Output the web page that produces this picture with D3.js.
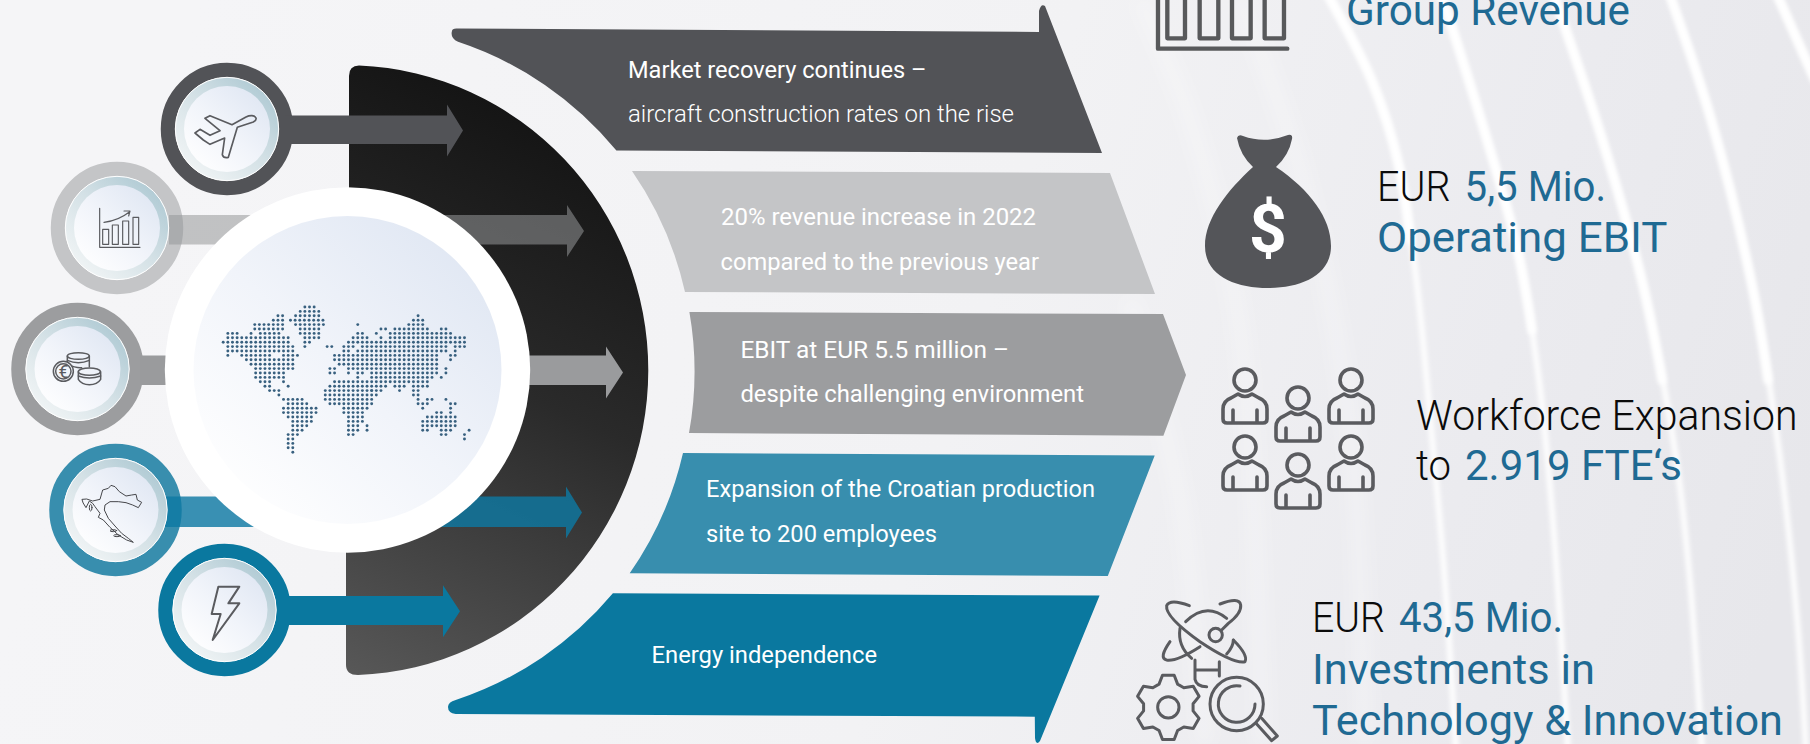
<!DOCTYPE html>
<html>
<head>
<meta charset="utf-8">
<script src="https://cdn.jsdelivr.net/npm/d3@7/dist/d3.min.js"></script>
<style>
html,body{margin:0;padding:0;background:#f3f3f5;overflow:hidden}
svg{display:block}
text{font-family:Roboto,sans-serif}
</style>
</head>
<body>
<svg id="c" width="1810" height="744"></svg>
<script>
// ---------- content ----------
const topicColors = ["#525357","#c4c5c7","#9c9d9f","#388eae","#0a789f"];
const arrowColors = ["#525357","#969799","#9a9b9d","#0d79a2","#0a789f"];
const arrowOpacity = [1,0.55,1,0.81,1];
const topicCenters = [[227,129],[117,228],[77.5,369],[115.5,510],[224.5,610]];
const arrowSpans = [[285,447,463,115.5,144,130.5],[169,567,584,215,244.5,231],[140,606,623,355.5,385,372.6],[165,566,582,496.5,527,512.6],[283,443,460,596,625,611.3]];
const bannerOutlines = [
 "M452 31Q452 28 458 28.5L1039 32L1039 11Q1041 3 1045 6L1102 153L616.4 150.5A346 346 0 0 0 458 41.8Q450 38 452 31Z",
 "M632 171L1110 173L1155 294L685 292A346 346 0 0 0 632 171Z",
 "M689.4 312L1163 314L1186 375L1163.4 435.7L689 433A346 346 0 0 0 689.4 312Z",
 "M683 453L1154.7 455.6L1107.8 576L629.7 573.3A346 346 0 0 0 683 453Z",
 "M612.9 593.3L1099.6 595.6L1040 741Q1036 746 1035 738L1034.8 716.7L455.7 714Q448 713 448 707Q448 702 455.7 700A346 346 0 0 0 612.9 593.3Z"
];
const bannerText = [
 ["Market recovery continues –",628,78.3,926.6],
 ["aircraft construction rates on the rise",628,122.4,1014],
 ["20% revenue increase in 2022",721,225,1036],
 ["compared to the previous year",720.5,269.6,1039],
 ["EBIT at EUR 5.5 million –",740.4,358,1009],
 ["despite challenging environment",740.4,401.5,1084],
 ["Expansion of the Croatian production",706,497.4,1095],
 ["site to 200 employees",706,541.5,937],
 ["Energy independence",651.6,662.5,877]
];
const black="#0b0b0b", blue="#1f6a93";
const kpiText = [
 ["Group Revenue",1346,24.7,1630,blue],
 ["EUR",1377,201,1450.5,black],
 ["5,5 Mio.",1464.6,201,1606,blue],
 ["Operating EBIT",1377,251.5,1667.5,blue],
 ["Workforce Expansion",1416,429.5,1797.5,black],
 ["to",1416,480.3,1451,black],
 ["2.919 FTE‘s",1465,480.3,1682,blue],
 ["EUR",1312,632,1385,black],
 ["43,5 Mio.",1399,632,1563,blue],
 ["Investments in",1312,684.4,1595,blue],
 ["Technology & Innovation",1312,734.7,1783,blue]
];
// dotted world map: per row, runs of [first column, count]
const mapRows = [
 [[17.6,3]],
 [[16.6,5]],
 [[11.8,2],[15.6,6],[42,1]],
 [[10.8,3],[14.5,8],[41,3]],
 [[6.8,7],[15.6,7],[29,1],[40,4]],
 [[6.8,7],[16.6,5],[34,2],[37,8],[47,2]],
 [[1,3],[6,1],[8,5],[16.6,5],[29,2],[33,1],[36,14]],
 [[1,14],[17.6,4],[28,4],[34,1],[36,17]],
 [[0,14],[14,1],[17.6,2],[27,26]],
 [[1,12],[13,3],[17.6,1],[22.4,2],[26,3],[30,19],[50,3]],
 [[1,12],[13,3],[26,2],[29,20],[50,1]],
 [[1,1],[4,7],[13,4],[24,2],[26,21],[49,2]],
 [[5,11],[24,2],[26,21],[49,1]],
 [[6,10],[25,22]],
 [[7,9],[23,2],[27,20],[48,1]],
 [[7,7],[23,2],[27,1],[29,2],[32,15],[48,1]],
 [[7,7],[29,1],[32,2],[34,12],[47,1]],
 [[8,3],[13,1],[24,21]],
 [[9,2],[14,1],[23,13],[37,3],[41,4]],
 [[10,3],[22,11],[32,3],[38,1],[41,2]],
 [[12,1],[22,11],[33,1],[41,2]],
 [[13,5],[22,11],[42,1],[44,2],[48,1]],
 [[14,5],[23,10],[42,3],[49,2]],
 [[13,8],[26,6],[43,1],[49,1]],
 [[13,8],[26,5],[46,2],[49,1]],
 [[14,6],[27,4],[44,7]],
 [[15,5],[27,4],[43,8]],
 [[15,4],[27,3],[31,1],[43,8]],
 [[15,3],[27,3],[31,1],[43,2],[47,3],[53,1]],
 [[14,3],[27,2],[47,2],[52,1]],
 [[14,2],[52,1]],
 [[14,2]],
 [[14,2]],
 [[15,1]]
];
const streaks = [
 [[1325,-10],[1372,81],[1399,166],[1417,285],[1431,427],[1444,570],[1456,750]],
 [[1440,-10],[1485,133],[1517,247],[1539,380],[1553,522],[1568,750]],
 [[1552,-10],[1603,142],[1643,285],[1675,451],[1689,570],[1702,750]],
 [[1668,-10],[1711,119],[1752,285],[1779,451],[1797,617],[1806,750]],
 [[1775,-10],[1815,80]]
];
const streakUpper = [
 [[1325,-10],[1372,81],[1399,166],[1410,240]],
 [[1440,-10],[1485,133],[1517,247],[1532,330]],
 [[1552,-10],[1603,142],[1643,285],[1662,380]],
 [[1668,-10],[1711,119],[1752,285],[1768,380]],
 [[1775,-10],[1815,80]]
];
const faintStreaks = [
 [[1140,0],[1190,120],[1240,330],[1262,744]],
 [[1240,0],[1300,170],[1350,430],[1365,744]],
 [[1130,300],[1180,500],[1205,744]]
];

// ---------- helpers ----------
const svg=d3.select("#c"), defs=svg.append("defs");
function grad(id,x1,y1,x2,y2,stops,user){
  const g=defs.append("linearGradient").attr("id",id)
   .attr("x1",x1).attr("y1",y1).attr("x2",x2).attr("y2",y2);
  if(user) g.attr("gradientUnits","userSpaceOnUse");
  stops.forEach(s=>g.append("stop").attr("offset",s[0]).attr("stop-color",s[1]));
}
grad("bg",200,0,1810,500,[[0,"#f5f5f7"],[.5,"#f2f2f4"],[.8,"#ebebef"],[1,"#e7e7eb"]],true);
grad("dark",610,120,340,690,[[0,"#121212"],[.45,"#2a2a2a"],[1,"#5a5a5a"]],true);
grad("face",0.1,0.95,0.9,0.1,[[0,"#ffffff"],[.5,"#f1f4fa"],[1,"#e0e7f3"]]);
grad("bezel",0.9,0.1,0.15,0.9,[[0,"#aec9d3"],[.5,"#d4e1e6"],[1,"#f0f4f5"]]);
defs.append("filter").attr("id","b1").attr("x","-20%").attr("y","-20%").attr("width","140%").attr("height","140%")
  .append("feGaussianBlur").attr("stdDeviation",2.2);
defs.append("filter").attr("id","b2").attr("x","-30%").attr("y","-30%").attr("width","160%").attr("height","160%")
  .append("feGaussianBlur").attr("stdDeviation",8);

// ---------- background ----------
svg.append("rect").attr("width",1810).attr("height",744).attr("fill","url(#bg)");
const curve=d3.line().curve(d3.curveCatmullRom);
svg.append("g").attr("filter","url(#b2)").selectAll("path").data(faintStreaks).join("path")
  .attr("d",curve).attr("fill","none").attr("stroke","#fff").attr("stroke-width",14).attr("opacity",.3);
svg.append("g").attr("filter","url(#b1)").selectAll("path").data(streaks).join("path")
  .attr("d",curve).attr("fill","none").attr("stroke","#fff").attr("stroke-width",6).attr("opacity",.9);
svg.append("g").attr("filter","url(#b1)").selectAll("path").data(streakUpper).join("path")
  .attr("d",curve).attr("fill","none").attr("stroke","#fff").attr("stroke-width",9).attr("stroke-linecap","round").attr("opacity",.95);

// ---------- banners ----------
svg.append("g").selectAll("path").data(bannerOutlines).join("path")
  .attr("d",d=>d).attr("fill",(d,i)=>topicColors[i]);

// ---------- dark half disc ----------
svg.append("path").attr("d","M349 76Q349 65.5 359 65.5A302 305 0 0 1 358 675Q346 675 346 665L346 370L349 370Z").attr("fill","url(#dark)");

// ---------- rings + arrows ----------
const rings=svg.append("g");
rings.selectAll("circle").data(topicCenters).join("circle")
  .attr("cx",d=>d[0]).attr("cy",d=>d[1]).attr("r",59).attr("fill","none")
  .attr("stroke",(d,i)=>topicColors[i]).attr("stroke-width",14.5);
svg.append("g").selectAll("path").data(arrowSpans).join("path")
  .attr("d",d=>{const [x0,x1,x2,y0,y1,t]=d,h=26;
    return `M${x0} ${y0}L${x1} ${y0}L${x1} ${t-h}L${x2} ${t}L${x1} ${t+h}L${x1} ${y1}L${x0} ${y1}Z`;})
  .attr("fill",(d,i)=>arrowColors[i]).attr("fill-opacity",(d,i)=>arrowOpacity[i]);
const discs=svg.append("g").selectAll("g").data(topicCenters).join("g")
  .attr("transform",d=>`translate(${d[0]},${d[1]})`);
discs.append("circle").attr("r",51.7).attr("fill","url(#bezel)").attr("stroke","#fff").attr("stroke-width",1);
discs.append("circle").attr("r",43).attr("fill","url(#face)");

// ---------- central globe ----------
svg.append("circle").attr("cx",347.5).attr("cy",370).attr("r",182.7).attr("fill","#fff");
svg.append("circle").attr("cx",347.5).attr("cy",370).attr("r",154).attr("fill","url(#face)");
const colX=d3.scaleLinear().domain([0,1]).range([223.2,227.84]);
const rowY=d3.scaleLinear().domain([0,1]).range([307,311.4]);
const dots=[];
mapRows.forEach((runs,r)=>runs.forEach(([k,n])=>d3.range(n).forEach(i=>dots.push([k+i,r]))));
svg.append("g").selectAll("circle").data(dots).join("circle")
  .attr("cx",d=>colX(d[0])).attr("cy",d=>rowY(d[1])).attr("r",1.45).attr("fill","#38607f");

// ---------- small icons ----------
const ink="#5a5b5f";
function icon(x,y,k,sw,col){return svg.append("g").attr("transform",`translate(${x},${y}) scale(${k})`)
  .attr("fill","none").attr("stroke",col||ink).attr("stroke-width",sw).attr("stroke-linejoin","round").attr("stroke-linecap","round");}
// plane
icon(160,60,1/3,5).append("path").attr("d","M288 174C284 165 270 165 258 171L216 194L150 167L135 175L180 212L150 226L120 208L105 219L130 240L150 253L194 234L187 284Q190 295 205 292L232 202L280 186Q290 181 288 174Z");
// chart
const ch=icon(50,160,1/3,3.5);
ch.append("path").attr("d","M149 145V262H270");
[[158,208,18,45],[187,195,18,58],[218,183,18,70],[249,172,17,81]].forEach(b=>ch.append("rect").attr("x",b[0]).attr("y",b[1]).attr("width",b[2]).attr("height",b[3]));
ch.append("path").attr("d","M162 187Q205 182 238 156M222 153H240L236 168");
// coins
const co=icon(10,300,1/3,4.5);
co.append("path").attr("d","M172 168V200M238 168V200");
co.append("ellipse").attr("cx",205).attr("cy",168).attr("rx",33).attr("ry",10);
co.append("path").attr("d","M172 181Q205 195 238 181M172 194Q200 205 215 203");
co.append("path").attr("d","M205 215V238Q215 254 238 254Q262 254 272 238V215");
co.append("ellipse").attr("cx",238).attr("cy",215).attr("rx",33).attr("ry",11);
co.append("path").attr("d","M205 228Q238 240 272 228");
co.append("circle").attr("cx",160).attr("cy",214).attr("r",30).attr("fill","#f2f5fa");
co.append("circle").attr("cx",160).attr("cy",214).attr("r",23);
svg.append("text").attr("x",63.5).attr("y",377.5).attr("text-anchor","middle").attr("font-size",18).attr("fill",ink).text("€");
// croatia
const cr=icon(50,440,1/3,3,"#46474b");
cr.append("path").attr("d","M97 178L110 177L128 183L150 178L158 150L175 145L183 136L195 140L208 155L228 168L245 165L258 163L262 180L275 187L265 203L248 195L228 188L205 185L180 185L165 195L163 210L175 235L195 258L215 280L235 295L250 307L230 300L205 285L180 262L160 240L145 232L150 220L135 200L128 190L118 183L108 203L100 190Z");
cr.append("ellipse").attr("cx",190).attr("cy",272).attr("rx",10).attr("ry",3);
cr.append("ellipse").attr("cx",201).attr("cy",287).attr("rx",10).attr("ry",3);
cr.append("ellipse").attr("cx",122).attr("cy",203).attr("rx",4).attr("ry",10);
// bolt
icon(50,440,1/3,6).append("path").attr("d","M505 440H568L535 490H568L488 600L512 522H485Z");

// ---------- right hand icons ----------
const rev=svg.append("g").attr("fill","none").attr("stroke","#58595b").attr("stroke-linejoin","round").attr("stroke-linecap","round").attr("transform","translate(1130,0) scale(.3333)");
rev.attr("stroke-width",13).append("path").attr("d","M84 -20V146H472");
[[112,168],[209,268],[306,365],[404,465]].forEach(b=>rev.append("path").attr("d",`M${b[0]} -20V115H${b[1]-3}V-20`));
// money bag
svg.append("path").attr("fill","#545559").attr("d","M1237 138Q1238 134 1243 136Q1265 144 1288 135Q1293 134 1292 139Q1289 155 1276 167C1310 190 1331 218 1331 246C1331 276 1300 288 1268 288C1235 288 1205 276 1205 246C1205 218 1228 190 1253 167Q1240 155 1237 138Z");
svg.append("text").attr("x",1268).attr("y",252).attr("text-anchor","middle").attr("font-size",66).attr("font-weight",700).attr("fill","#fff").text("$");
// workforce
const people=[[1245,380],[1298,398],[1351,380],[1245,447],[1298,465],[1351,447]];
const pg=svg.append("g").selectAll("g").data(people).join("g").attr("transform",d=>`translate(${d[0]},${d[1]})`)
 .attr("fill","none").attr("stroke",ink).attr("stroke-width",3.6).attr("stroke-linejoin","round").attr("stroke-linecap","round");
pg.append("circle").attr("r",11);
pg.append("path").attr("d","M-18 43Q-22 43 -22 39V29Q-22 21 -14 18L-7 14Q0 19 7 14L14 18Q22 21 22 29V39Q22 43 18 43ZM-12 30V43M12 30V43");
// investments
const inv=icon(1120,590,1/3,9);
inv.append("path").attr("d","M208 47Q150 25 140 47Q135 80 240 155Q340 222 375 215Q385 195 340 150");
inv.append("path").attr("d","M300 42Q358 20 362 45Q365 70 325 100L305 120");
inv.append("path").attr("d","M150 155Q115 205 140 210Q170 215 240 170");
inv.append("path").attr("d","M197 95Q258 35 320 85M340 150Q340 170 320 192M180 115Q172 170 215 205");
inv.append("circle").attr("cx",287).attr("cy",135).attr("r",20);
inv.append("path").attr("d","M225 210V268Q230 290 260 290M225 240H298M298 215V258");
const gearPts=[];
d3.range(6).forEach(i=>{const a=i*Math.PI/3-Math.PI/2,w=.24,v=.30;
  [[75,a-v-.08],[98,a-w+.06],[98,a+w-.06],[75,a+v+.08]].forEach(p=>gearPts.push([145+p[0]*Math.cos(p[1]),352+p[0]*Math.sin(p[1])]));});
inv.append("path").attr("d",d3.line().curve(d3.curveLinearClosed)(gearPts));
inv.append("circle").attr("cx",145).attr("cy",352).attr("r",32);
inv.append("circle").attr("cx",350).attr("cy",342).attr("r",80);
inv.append("path").attr("d","M360 288A55 55 0 1 0 405 342");
inv.append("path").attr("d","M408 400L455 452L472 438L425 385");

// ---------- text ----------
function put(rows,size,weightFn,fillFn){
  svg.append("g").selectAll("text").data(rows).join("text")
   .attr("x",d=>d[1]).attr("y",d=>d[2]).attr("textLength",d=>d[3]-d[1]).attr("lengthAdjust","spacingAndGlyphs")
   .attr("font-size",size).attr("font-weight",weightFn).attr("fill",fillFn).text(d=>d[0]);
}
put(bannerText,23,(d,i)=>i==1?300:400,()=>"#ffffff");
put(kpiText,42,d=>d[4]===black?300:400,d=>d[4]);
</script>
</body>
</html>
